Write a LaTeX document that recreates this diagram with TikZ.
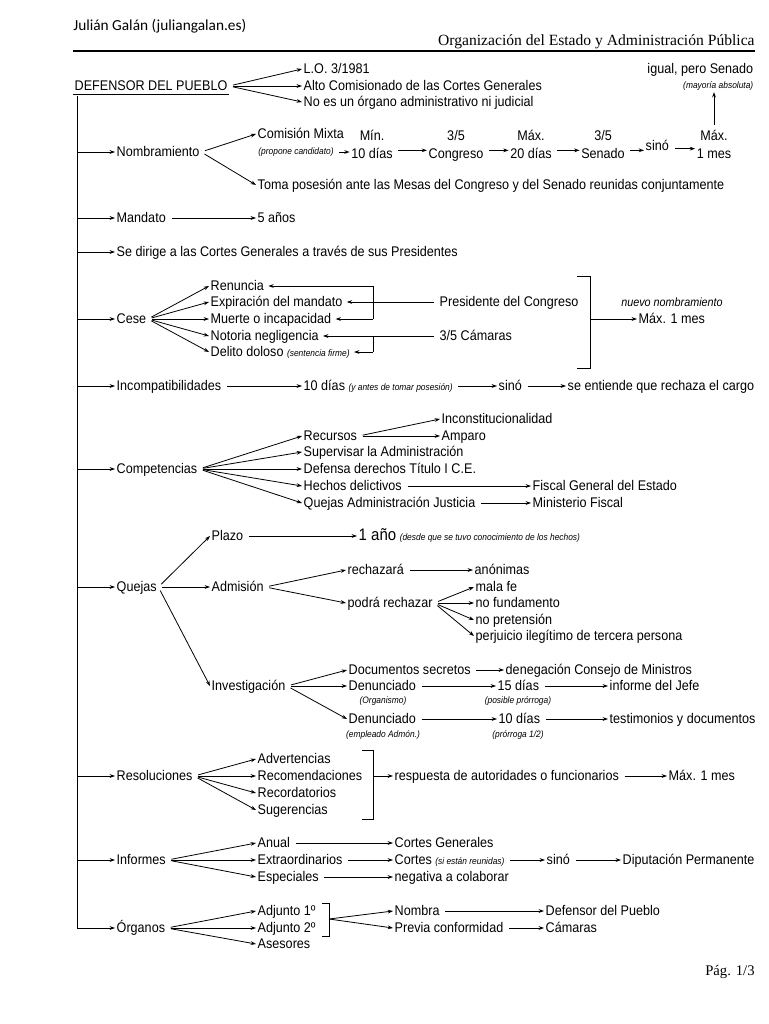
\documentclass[tikz,border=0pt]{standalone}
\usepackage{fontspec}
\setmainfont{Liberation Sans}[FakeStretch=0.9]
\newfontfamily\headfont{Carlito}
\newfontfamily\titlefont{Liberation Serif}
\usetikzlibrary{arrows.meta,calc}
\newcommand{\notafont}{\fontsize{7}{8}\selectfont\itshape}
\newcommand{\nota}[1]{{\notafont #1}}
\tikzset{
  txt/.style={anchor=west, inner sep=1pt, text height=1.5ex, text depth=.3ex, font=\fontsize{10.5}{12}\selectfont},
  dual/.style={align=center, inner sep=1pt, font=\fontsize{10.5}{13}\selectfont,
    execute at begin node=\strut, execute at end node=\strut},
  glosa/.style={inner sep=1pt, font=\notafont},
  arr/.style={-{Stealth[length=4pt,width=2.8pt]}, shorten <=3pt},
  larr/.style={arr, shorten <=0pt},
}

\begin{document}
\begin{tikzpicture}[x=0.75pt, y=-0.75pt, line width=0.6pt]
	\useasboundingbox (0,0) rectangle (768,1024);

	\node[anchor=west, inner sep=0, font=\headfont\fontsize{11.5}{13}\selectfont] (autor) at (73,26) {Julián Galán (juliangalan.es)};
	\node[anchor=east, inner sep=0, font=\titlefont\fontsize{11.7}{13}\selectfont] (materia) at (755,42) {Organización del Estado y Administración Pública};
	\draw[line width=0.9pt] (73,51) -- (755,51);
	\node[anchor=east, inner sep=0, font=\titlefont\fontsize{11}{13}\selectfont] (pag) at (755,972) {Pág. 1/3};

	\node[txt] (dp) at (73,86) {DEFENSOR DEL PUEBLO};
	\draw (dp.south west) -- (dp.south east);
	\node[txt] (lo) at (302,69) {L.O. 3/1981};
	\node[txt] (alto) at (302,86) {Alto Comisionado de las Cortes Generales};
	\node[txt] (noes) at (302,102) {No es un órgano administrativo ni judicial};
	\draw[arr] (dp.east) -- (lo.west);
	\draw[arr] (dp.east) -- (alto.west);
	\draw[arr] (dp.east) -- (noes.west);
	\node[txt, anchor=east] (igual) at (755,69) {igual, pero Senado};
	\node[glosa, anchor=east] (mayoria) at (755,86) {(mayoría absoluta)};

	\coordinate (tronco) at (77,96);

	% nombramiento
	\node[txt] (nomb) at (115,152) {Nombramiento};
	\node[txt] (comision) at (256,134) {Comisión Mixta};
	\node[glosa] (propone) at (296,152) {(propone candidato)};
	\node[dual] (min) at (372,147) {Mín.\\10 días};
	\node[dual] (cong) at (456,147) {3/5\\Congreso};
	\node[dual] (max20) at (531,147) {Máx.\\20 días};
	\node[dual] (sen) at (603,147) {3/5\\Senado};
	\node[txt] (sino1) at (644,146) {sinó};
	\node[dual] (max1) at (714,147) {Máx.\\1 mes};
	\node[txt] (toma) at (256,185) {Toma posesión ante las Mesas del Congreso y del Senado reunidas conjuntamente};
	\draw[arr] (nomb.east) -- (comision.west);
	\draw[arr] (nomb.east) -- (toma.west);
	\draw[arr] (propone.east) -- (propone.east -| min.west);
	\draw[arr] ([yshift=-2.5pt]min.east) -- ([yshift=-2.5pt]cong.west);
	\draw[arr] ([yshift=-2.5pt]cong.east) -- ([yshift=-2.5pt]max20.west);
	\draw[arr] ([yshift=-2.5pt]max20.east) -- ([yshift=-2.5pt]sen.west);
	\draw[arr] ([yshift=-2.5pt]sen.east) -- ([yshift=-2.5pt]sen.east -| sino1.west);
	\draw[arr] ([yshift=-2pt]sino1.east) -- ([yshift=-2pt]sino1.east -| max1.west);
	\draw[arr] (max1.north) -- (max1.north |- mayoria.south);

	% mandato, cortes
	\node[txt] (mand) at (115,218) {Mandato};
	\node[txt] (cinco) at (256,218) {5 años};
	\draw[arr] (mand.east) -- (cinco.west);
	\node[txt] (dirige) at (115,252) {Se dirige a las Cortes Generales a través de sus Presidentes};

	% cese
	\node[txt] (cese) at (115,319) {Cese};
	\node[txt] (renuncia) at (209,286) {Renuncia};
	\node[txt] (expir) at (209,302) {Expiración del mandato};
	\node[txt] (muerte) at (209,319) {Muerte o incapacidad};
	\node[txt] (notoria) at (209,336) {Notoria negligencia};
	\node[txt] (delito) at (209,352) {Delito doloso \nota{(sentencia firme)}};
	\foreach \n in {renuncia,expir,muerte,notoria,delito}
		\draw[arr] (cese.east) -- (\n.west);
	\node[txt] (pres) at (438,302) {Presidente del Congreso};
	\node[txt] (camaras) at (438,336) {3/5 Cámaras};
	\coordinate (enlace) at (373,302);
	\draw[arr, shorten >=2pt] (pres.west) -- (expir.east);
	\draw (enlace |- renuncia) -- (enlace |- muerte);
	\draw[larr, shorten >=2pt] (enlace |- renuncia) -- (renuncia.east);
	\draw[larr, shorten >=2pt] (enlace |- muerte) -- (muerte.east);
	\draw[arr, shorten >=2pt] (camaras.west) -- (notoria.east);
	\draw (enlace |- notoria) -- (enlace |- delito);
	\draw[larr, shorten >=2pt] (enlace |- delito) -- (delito.east);
	\draw (577,276) -- (590,276) -- (590,368) -- (577,368);
	\coordinate (corchete) at (590,319);
	\node[inner sep=1pt, font=\fontsize{9}{10}\selectfont\itshape] (nuevo) at (672,302) {nuevo nombramiento};
	\node[txt] (maxmes) at (637,319) {Máx. 1 mes};
	\draw[larr] (corchete) -- (maxmes.west);

	% incompatibilidades
	\node[txt] (incomp) at (115,386) {Incompatibilidades};
	\node[txt] (diez) at (302,386) {10 días \nota{(y antes de tomar posesión)}};
	\node[txt] (sino2) at (497,386) {sinó};
	\node[txt] (rechaza) at (566,386) {se entiende que rechaza el cargo};
	\draw[arr] (incomp.east) -- (diez.west);
	\draw[arr] (diez.east) -- (sino2.west);
	\draw[arr] (sino2.east) -- (rechaza.west);

	% competencias
	\node[txt] (comp) at (115,469) {Competencias};
	\node[txt] (recursos) at (302,436) {Recursos};
	\node[txt] (superv) at (302,452) {Supervisar la Administración};
	\node[txt] (defensa) at (302,469) {Defensa derechos Título I C.E.};
	\node[txt] (hechos) at (302,486) {Hechos delictivos};
	\node[txt] (qjusticia) at (302,503) {Quejas Administración Justicia};
	\foreach \n in {recursos,superv,defensa,hechos,qjusticia}
		\draw[arr] (comp.east) -- (\n.west);
	\node[txt] (inconst) at (440,419) {Inconstitucionalidad};
	\node[txt] (amparo) at (440,436) {Amparo};
	\draw[arr] (recursos.east) -- (inconst.west);
	\draw[arr] (recursos.east) -- (amparo.west);
	\node[txt] (fiscal) at (531,486) {Fiscal General del Estado};
	\node[txt] (minfiscal) at (531,503) {Ministerio Fiscal};
	\draw[arr] (hechos.east) -- (fiscal.west);
	\draw[arr] (qjusticia.east) -- (minfiscal.west);

	% quejas
	\node[txt] (quejas) at (115,587) {Quejas};
	\node[txt] (plazo) at (210,536) {Plazo};
	\node[txt] (admision) at (210,587) {Admisión};
	\node[txt] (investig) at (210,686) {Investigación};
	\foreach \n in {plazo,admision,investig}
		\draw[arr] (quejas.east) -- (\n.west);
	\node[txt] (unano) at (357,536) {{\fontsize{12.5}{14}\selectfont 1 año} \nota{(desde que se tuvo conocimiento de los hechos)}};
	\draw[arr] (plazo.east) -- (unano.west);
	\node[txt] (rechazara) at (346,570) {rechazará};
	\node[txt] (podra) at (346,603) {podrá rechazar};
	\draw[arr] (admision.east) -- (rechazara.west);
	\draw[arr] (admision.east) -- (podra.west);
	\node[txt] (anonimas) at (473,570) {anónimas};
	\draw[arr] (rechazara.east) -- (anonimas.west);
	\node[txt] (malafe) at (474,587) {mala fe};
	\node[txt] (nofund) at (474,603) {no fundamento};
	\node[txt] (nopret) at (474,620) {no pretensión};
	\node[txt] (perjuicio) at (474,636) {perjuicio ilegítimo de tercera persona};
	\foreach \n in {malafe,nofund,nopret,perjuicio}
		\draw[arr] (podra.east) -- (\n.west);
	\node[txt] (docs) at (347,670) {Documentos secretos};
	\node[txt] (denun1) at (347,686) {Denunciado};
	\node[glosa] (organismo) at (383,701) {(Organismo)};
	\node[txt] (denun2) at (347,719) {Denunciado};
	\node[glosa] (empleado) at (383,735) {(empleado Admón.)};
	\foreach \n in {docs,denun1,denun2}
		\draw[arr] (investig.east) -- (\n.west);
	\node[txt] (deneg) at (504,670) {denegación Consejo de Ministros};
	\draw[arr] (docs.east) -- (deneg.west);
	\node[txt] (quince) at (496,686) {15 días};
	\node[glosa] (posible) at (518,701) {(posible prórroga)};
	\node[txt] (informe) at (608,686) {informe del Jefe};
	\draw[arr] (denun1.east) -- (quince.west);
	\draw[arr] (quince.east) -- (informe.west);
	\node[txt] (diezb) at (497,719) {10 días};
	\node[glosa] (prorroga) at (518,735) {(prórroga 1/2)};
	\node[txt] (testim) at (608,719) {testimonios y documentos};
	\draw[arr] (denun2.east) -- (diezb.west);
	\draw[arr] (diezb.east) -- (testim.west);

	% resoluciones
	\node[txt] (resol) at (115,776) {Resoluciones};
	\node[txt] (advert) at (256,759) {Advertencias};
	\node[txt] (recom) at (256,776) {Recomendaciones};
	\node[txt] (record) at (256,793) {Recordatorios};
	\node[txt] (suger) at (256,810) {Sugerencias};
	\foreach \n in {advert,recom,record,suger}
		\draw[arr] (resol.east) -- (\n.west);
	\draw (362,750) -- (373,750) -- (373,819) -- (362,819);
	\coordinate (corchete2) at (373,776);
	\node[txt] (respuesta) at (393,776) {respuesta de autoridades o funcionarios};
	\node[txt] (maxmes2) at (667,776) {Máx. 1 mes};
	\draw[larr] (corchete2) -- (respuesta.west);
	\draw[arr] (respuesta.east) -- (maxmes2.west);

	% informes
	\node[txt] (inf) at (115,860) {Informes};
	\node[txt] (anual) at (256,843) {Anual};
	\node[txt] (extra) at (256,860) {Extraordinarios};
	\node[txt] (espec) at (256,877) {Especiales};
	\foreach \n in {anual,extra,espec}
		\draw[arr] (inf.east) -- (\n.west);
	\node[txt] (cortesgen) at (393,843) {Cortes Generales};
	\node[txt] (cortes) at (393,860) {Cortes \nota{(si están reunidas)}};
	\node[txt] (sino3) at (545,860) {sinó};
	\node[txt] (diput) at (621,860) {Diputación Permanente};
	\node[txt] (negativa) at (393,877) {negativa a colaborar};
	\draw[arr] (anual.east) -- (cortesgen.west);
	\draw[arr] (extra.east) -- (cortes.west);
	\draw[arr] (cortes.east) -- (sino3.west);
	\draw[arr] (sino3.east) -- (diput.west);
	\draw[arr] (espec.east) -- (negativa.west);

	% organos
	\node[txt] (org) at (115,928) {Órganos};
	\node[txt] (adj1) at (256,911) {Adjunto 1º};
	\node[txt] (adj2) at (256,928) {Adjunto 2º};
	\node[txt] (asesores) at (256,944) {Asesores};
	\foreach \n in {adj1,adj2,asesores}
		\draw[arr] (org.east) -- (\n.west);
	\draw (322,903) -- (329,903) -- (329,936) -- (322,936);
	\coordinate (corchete3) at (329,919);
	\node[txt] (nombra) at (393,911) {Nombra};
	\node[txt] (previa) at (393,928) {Previa conformidad};
	\node[txt] (defensor) at (544,911) {Defensor del Pueblo};
	\node[txt] (camaras2) at (544,928) {Cámaras};
	\draw[larr] (corchete3) -- (nombra.west);
	\draw[larr] (corchete3) -- (previa.west);
	\draw[arr] (nombra.east) -- (defensor.west);
	\draw[arr] (previa.east) -- (camaras2.west);

	% tronco
	\draw (tronco) -- (tronco |- org);
	\foreach \n in {nomb,mand,dirige,cese,incomp,comp,quejas,resol,inf,org}
		\draw[larr] (tronco |- \n) -- (\n.west);
\end{tikzpicture}
\end{document}
